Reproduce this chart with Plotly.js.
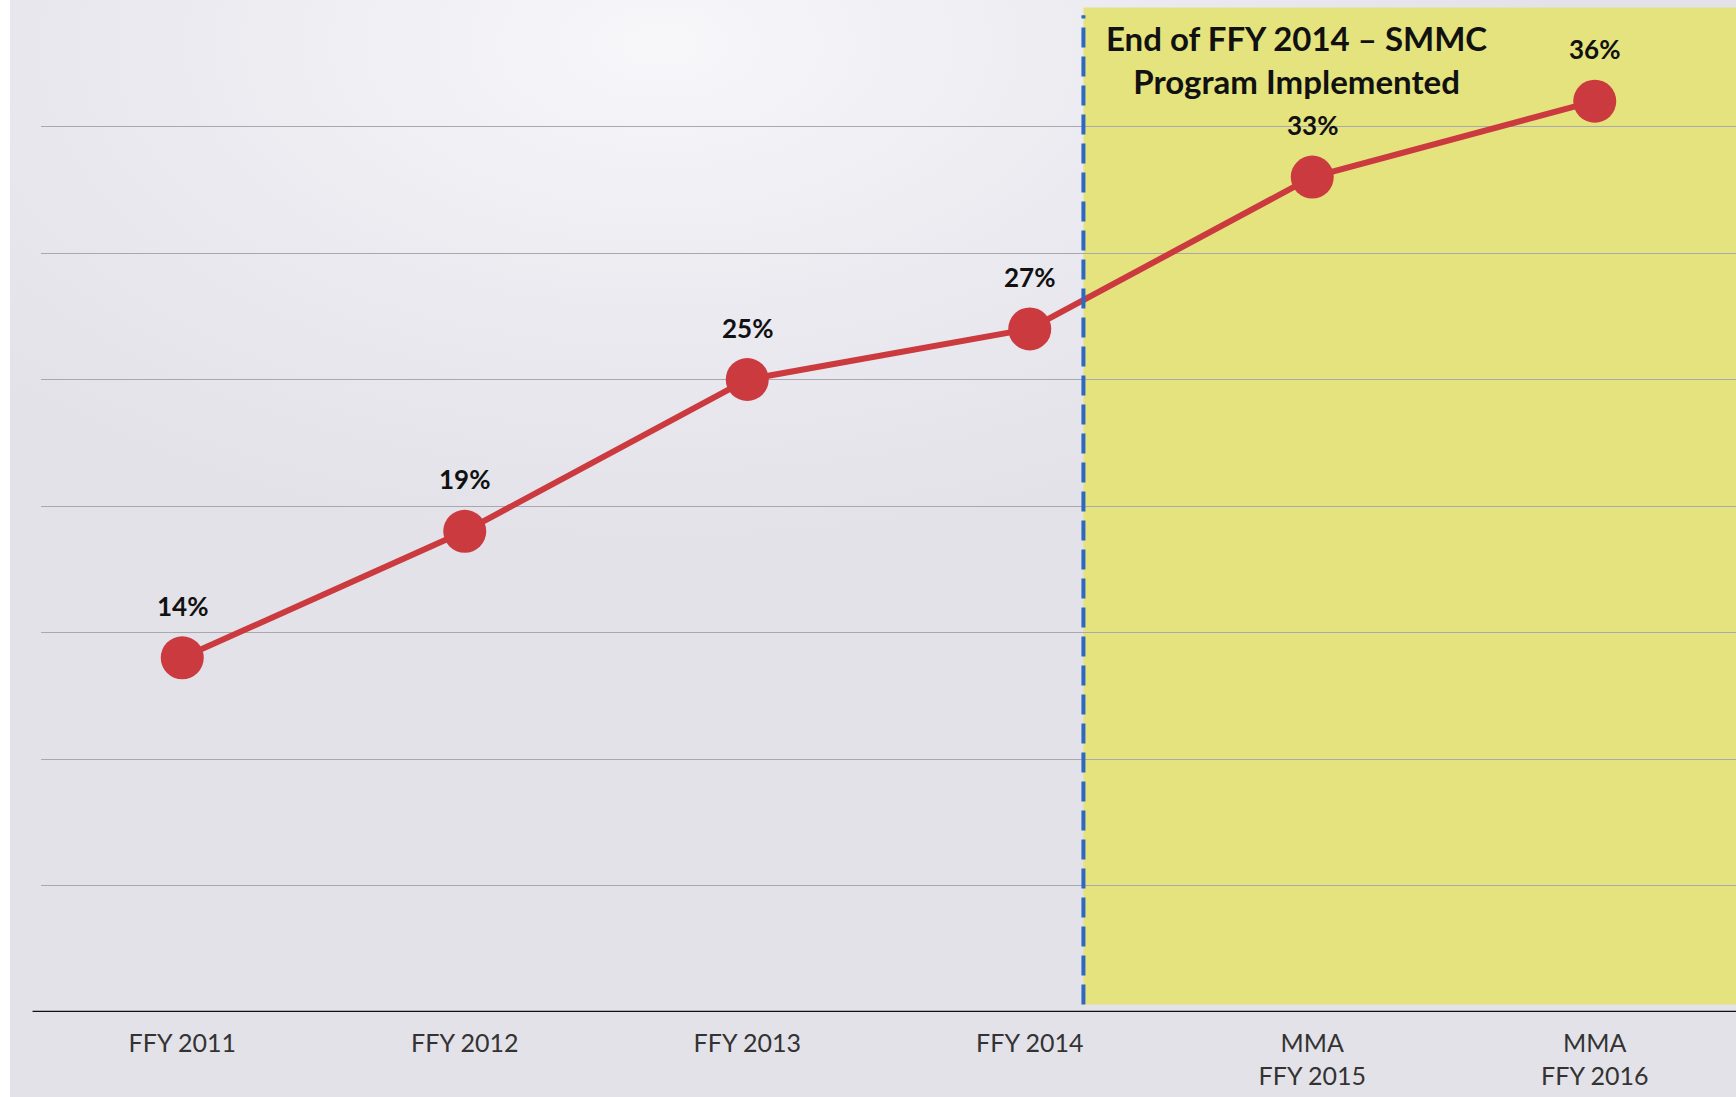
<!DOCTYPE html>
<html>
<head>
<meta charset="utf-8">
<script src="https://cdn.plot.ly/plotly-3.0.1.min.js"></script>
<style>
html,body{margin:0;padding:0;overflow:hidden;background:#e4e3ea;}
#chart{width:1736px;height:1097px;background:radial-gradient(ellipse 900px 500px at 38% 4%, #f7f7fa 0%, #ebeaf0 55%, #e3e2e9 100%);}
</style>
</head>
<body>
<div id="chart"></div>
<script>
const categories = ["FFY 2011", "FFY 2012", "FFY 2013", "FFY 2014", "MMA<br>FFY 2015", "MMA<br>FFY 2016"];
const values = [14, 19, 25, 27, 33, 36];
const valueLabels = ["14%", "19%", "25%", "27%", "33%", "36%"];
const eventText = "End of FFY 2014 – SMMC<br>Program Implemented";
const eventPosition = 3.19;

const xIdx = categories.map((c, i) => i);
const font = "Lato, 'Open Sans', sans-serif";

const trace = {
  x: xIdx,
  y: values,
  type: "scatter",
  mode: "lines+markers",
  line: {color: "#cb3a3f", width: 6},
  marker: {color: "#cb3a3f", size: 43},
  hoverinfo: "skip",
  cliponaxis: false
};

const labelAnns = values.map((v, i) => ({
  x: i, y: v, xref: "x", yref: "y",
  text: "<b>" + valueLabels[i] + "</b>",
  showarrow: false, yshift: 52,
  font: {family: font, size: 26, color: "#111"}
}));

const layout = {
  width: 1736, height: 1097,
  margin: {l: 41, r: 0, t: 0, b: 85},
  paper_bgcolor: "rgba(0,0,0,0)",
  plot_bgcolor: "rgba(0,0,0,0)",
  showlegend: false,
  xaxis: {
    range: [-0.5, 5.5],
    tickvals: xIdx,
    ticktext: categories,
    showgrid: false,
    zeroline: false,
    showline: false,
    ticks: "",
    ticklabelstandoff: 14,
    tickfont: {family: font, size: 25, color: "#333"},
    fixedrange: true
  },
  yaxis: {
    range: [0, 40],
    dtick: 5,
    showgrid: true,
    gridcolor: "#a9a8b0",
    gridwidth: 1,
    showticklabels: false,
    zeroline: false,
    ticks: "",
    fixedrange: true
  },
  shapes: [
    {type: "rect", xref: "x", yref: "y", x0: eventPosition, x1: 5.6, y0: 0.3, y1: 39.7,
     fillcolor: "#e4e37d", line: {width: 0}, layer: "below"},
    {type: "rect", xref: "paper", yref: "paper", x0: -0.0242, x1: -0.0183, y0: -0.1, y1: 1.0,
     fillcolor: "#ffffff", line: {width: 0}, layer: "below"},
    {type: "line", xref: "x", yref: "y", x0: eventPosition, x1: eventPosition, y0: 0.3, y1: 39.4,
     line: {color: "#2e68c0", width: 4, dash: "20px,9px"}},
    {type: "line", xref: "paper", yref: "y", x0: -0.005, x1: 1, y0: 0, y1: 0,
     line: {color: "#111", width: 2.5}}
  ],
  annotations: labelAnns.concat([{
    x: 3.944, y: 1, xref: "x", yref: "paper", yanchor: "top", yshift: -16,
    text: "<b>" + eventText + "</b>", showarrow: false, align: "center",
    font: {family: font, size: 33, color: "#111"}
  }])
};

Plotly.newPlot("chart", [trace], layout, {displayModeBar: false, staticPlot: true});
</script>
</body>
</html>
